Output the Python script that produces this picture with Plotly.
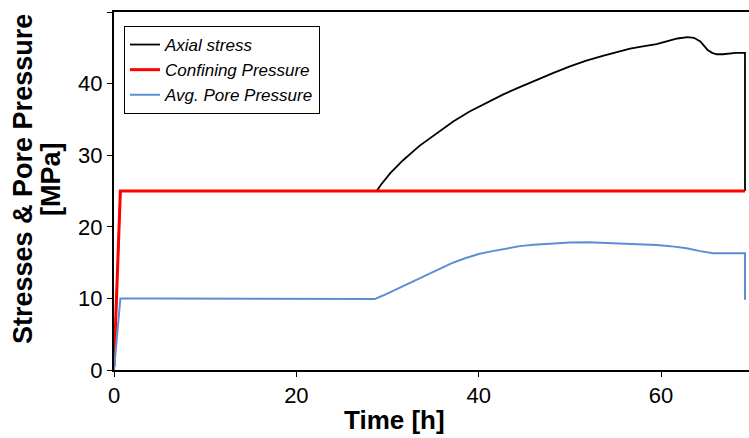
import plotly.graph_objects as go

# Axial stress [MPa] vs time [h]
t_axial = [0, 0.7, 28.8, 29.3, 30.3, 31.7, 33.5, 35.4, 37.2, 39.0, 40.8, 42.7, 44.5, 46.3, 48.2, 50.0,
           51.8, 53.7, 55.2, 56.6, 58.0, 59.5, 60.6, 61.8, 62.9, 63.6, 64.3, 64.7, 65.1, 65.6, 66.1,
           66.8, 67.5, 68.2, 69.2, 69.2]
v_axial = [0, 25, 25, 25.9, 27.5, 29.3, 31.3, 33.1, 34.7, 36.1, 37.3, 38.5, 39.5, 40.5, 41.5, 42.4,
           43.2, 43.9, 44.4, 44.9, 45.2, 45.5, 45.9, 46.3, 46.5, 46.4, 45.9, 45.3, 44.7, 44.3, 44.1,
           44.1, 44.2, 44.3, 44.3, 25]

# Confining pressure [MPa]
t_conf = [0, 0.7, 69.2]
v_conf = [0.5, 25, 25]

# Avg. pore pressure [MPa]
t_pore = [0, 0.7, 5, 27, 28.6, 29.5, 31, 32.5, 34, 35.5, 37, 38.5, 40, 41.5, 43, 44.5, 46, 48, 50,
          52, 53, 55.5, 57.5, 59.5, 61, 62.8, 64.3, 65.7, 69.2, 69.2]
v_pore = [0, 10, 10, 10, 9.9, 10.4, 11.3, 12.3, 13.2, 14.1, 14.9, 15.6, 16.2, 16.6, 17.0, 17.3, 17.5,
          17.7, 17.8, 17.85, 17.8, 17.7, 17.6, 17.45, 17.3, 17.0, 16.6, 16.3, 16.3, 9.8]

x_ticks = [0, 20, 40, 60]
y_ticks = [0, 10, 20, 30, 40, 50]

FONT = "Liberation Sans, Arial, sans-serif"

fig = go.Figure()
fig.add_trace(go.Scatter(x=t_axial, y=v_axial, mode="lines", name="<i>Axial stress</i>",
                         line=dict(color="black", width=1.8)))
fig.add_trace(go.Scatter(x=t_conf, y=v_conf, mode="lines", name="<i>Confining Pressure</i>",
                         line=dict(color="#FF0000", width=3)))
fig.add_trace(go.Scatter(x=t_pore, y=v_pore, mode="lines", name="<i>Avg. Pore Pressure</i>",
                         line=dict(color="#5A8FD6", width=2)))

W, H = 749, 438
L, R, T, B = 114, 0, 12, 68
pw, ph = W - L - R, H - T - B


def px_x(x):
    return (x - L) / pw


def px_y(y):
    return (H - B - y) / ph


fig.update_layout(
    width=W, height=H,
    margin=dict(l=L, r=R, t=T, b=B),
    paper_bgcolor="white", plot_bgcolor="white",
    font=dict(family=FONT, color="black"),
    showlegend=True,
    legend=dict(x=px_x(124), y=px_y(26), xanchor="left", yanchor="top",
                bordercolor="black", borderwidth=1, bgcolor="white",
                font=dict(size=17, family=FONT, color="black"),
                tracegroupgap=0),
    xaxis=dict(range=[0, 69.64], tickvals=x_ticks, showgrid=False, zeroline=False,
               showline=True, linecolor="black", linewidth=2, mirror=True,
               ticks="outside", ticklen=5, tickcolor="black",
               tickfont=dict(size=22, family=FONT, color="black")),
    yaxis=dict(range=[0, 50], tickvals=y_ticks, showgrid=False, zeroline=False,
               showline=True, linecolor="black", linewidth=2,
               ticks="outside", ticklen=5, tickcolor="black",
               tickfont=dict(size=22, family=FONT, color="black")),
    annotations=[
        dict(text="<b>Time [h]</b>", xref="paper", yref="paper", x=px_x(394), y=px_y(420),
             xanchor="center", yanchor="middle", showarrow=False,
             font=dict(size=26, family=FONT, color="black")),
        dict(text="<b>Stresses &amp; Pore Pressure</b>", xref="paper", yref="paper",
             x=px_x(23), y=px_y(179), xanchor="center", yanchor="middle", textangle=-90,
             showarrow=False, font=dict(size=27, family=FONT, color="black")),
        dict(text="<b>[MPa]</b>", xref="paper", yref="paper",
             x=px_x(51), y=px_y(179), xanchor="center", yanchor="middle", textangle=-90,
             showarrow=False, font=dict(size=27, family=FONT, color="black")),
    ],
)

fig.write_html("out.html")
